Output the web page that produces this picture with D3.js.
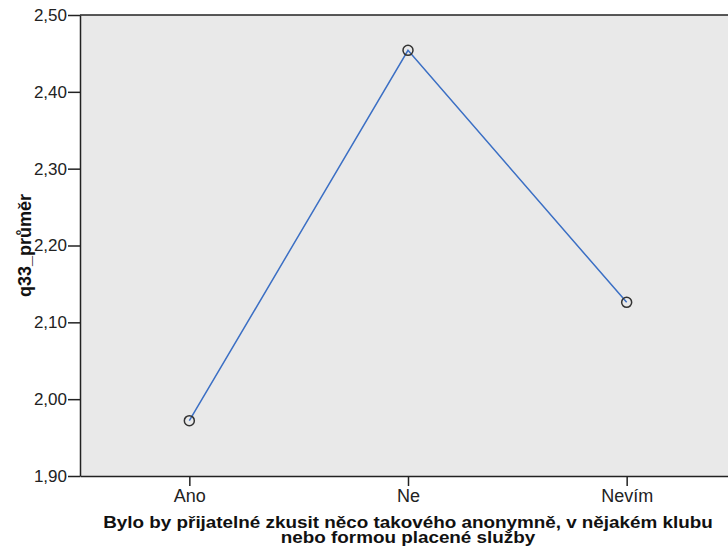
<!DOCTYPE html>
<html>
<head>
<meta charset="utf-8">
<script src="https://cdn.jsdelivr.net/npm/d3@7"></script>
<style>
  body { margin: 0; background: white; }
  text { font-family: "Liberation Sans", Arial, sans-serif; }
</style>
</head>
<body>
<div id="container"></div>
<script>
var categories = ["Ano", "Ne", "Nevím"];
var means = [1.972, 2.454, 2.126];
var yTicks = [1.90, 2.00, 2.10, 2.20, 2.30, 2.40, 2.50];
var xTitle = ["Bylo by přijatelné zkusit něco takového anonymně, v nějakém klubu", "nebo formou placené služby"];
var yTitle = "q33_průměr";

var w = 728, h = 551;
var mLeft = 80, mTop = 15, mBottom = 476, mRight = 736;

var svg = d3.select("#container").append("svg")
    .attr("width", w).attr("height", h)
    .style("display", "block");

var x = d3.scalePoint().domain(categories).range([mLeft, mRight]).padding(0.5);
var y = d3.scaleLinear().domain([1.9, 2.5]).range([mBottom, mTop]);

svg.append("rect")
    .attr("x", mLeft).attr("y", mTop)
    .attr("width", mRight - mLeft).attr("height", mBottom - mTop)
    .attr("fill", "#e9e9e9");

var fmt = function(d) { return d3.format(".2f")(d).replace(".", ","); };

var gy = svg.append("g").attr("transform", "translate(" + mLeft + ",0)")
    .call(d3.axisLeft(y).tickValues(yTicks).tickSize(12).tickSizeOuter(0).tickFormat(fmt));
gy.select(".domain").attr("stroke", "#222").attr("stroke-width", 1.5);
gy.selectAll(".tick line").attr("stroke", "#222").attr("stroke-width", 1.5);
gy.selectAll(".tick text").attr("font-size", 17).attr("fill", "#222").attr("x", -13)
    .attr("font-family", "'Liberation Sans', Arial, sans-serif");

var gx = svg.append("g").attr("transform", "translate(0," + mBottom + ")")
    .call(d3.axisBottom(x).tickSize(10).tickSizeOuter(0));
gx.select(".domain").attr("stroke", "#222").attr("stroke-width", 1.5);
gx.selectAll(".tick line").attr("stroke", "#222").attr("stroke-width", 1.5);
gx.selectAll(".tick text").attr("font-size", 18).attr("fill", "#222").attr("y", 13)
    .attr("font-family", "'Liberation Sans', Arial, sans-serif");

svg.append("line")
    .attr("x1", mLeft).attr("x2", mRight).attr("y1", mTop).attr("y2", mTop)
    .attr("stroke", "#222").attr("stroke-width", 1.5);

var line = d3.line()
    .x(function(d, i) { return x(categories[i]); })
    .y(function(d) { return y(d); });

svg.append("path")
    .datum(means)
    .attr("d", line)
    .attr("fill", "none")
    .attr("stroke", "#3b6fc4")
    .attr("stroke-width", 1.5);

svg.selectAll("circle.pt")
    .data(means)
    .enter().append("circle")
    .attr("class", "pt")
    .attr("cx", function(d, i) { return x(categories[i]); })
    .attr("cy", function(d) { return y(d); })
    .attr("r", 5)
    .attr("fill", "none")
    .attr("stroke", "#333")
    .attr("stroke-width", 1.5);

svg.append("text")
    .attr("transform", "translate(31," + ((mTop + mBottom) / 2) + ") rotate(-90)")
    .attr("text-anchor", "middle")
    .attr("font-size", 18).attr("font-weight", "bold").attr("fill", "#111")
    .text(yTitle);

// axis title is wider than it is tall in the reference, so stretch it a bit
svg.append("g")
    .attr("transform", "translate(408,0) scale(1.11,1)")
  .append("text")
    .attr("x", 0).attr("y", 528)
    .attr("text-anchor", "middle")
    .attr("font-size", 17).attr("font-weight", "bold").attr("fill", "#111")
    .selectAll("tspan")
    .data(xTitle)
    .enter().append("tspan")
    .attr("x", 0)
    .attr("dy", function(d, i) { return i ? 15 : 0; })
    .text(function(d) { return d; });
</script>
</body>
</html>
